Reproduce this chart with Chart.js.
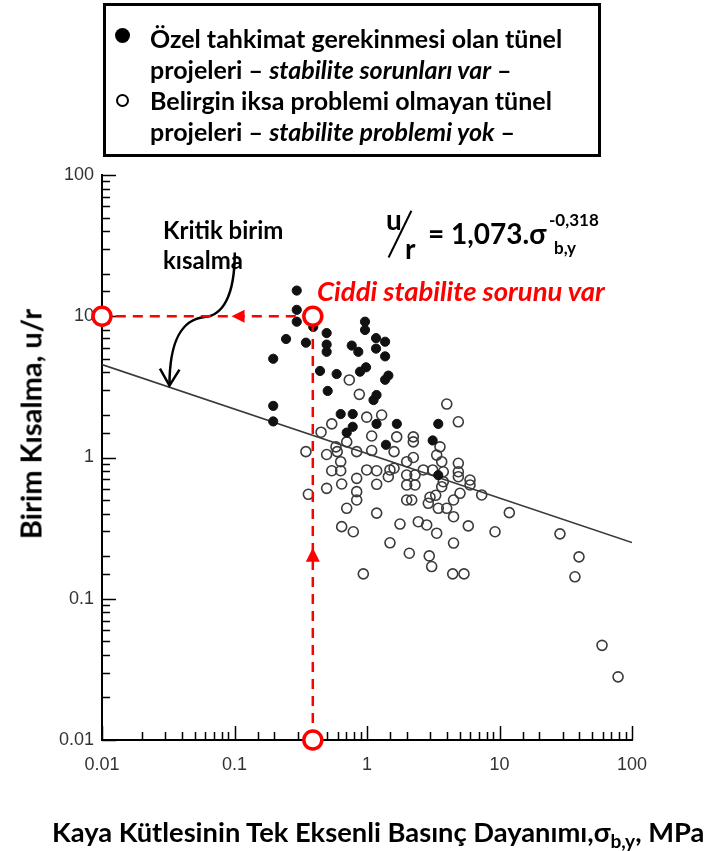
<!DOCTYPE html>
<html lang="tr">
<head>
    <meta charset="UTF-8">
    <title>Birim Kısalma - Basınç Dayanımı</title>
    <script src="https://cdn.jsdelivr.net/npm/chart.js"></script>
    <style>
        body { margin: 0; background: #fff; font-family: Lato, "Open Sans", sans-serif; }
        #wrap { position: relative; width: 708px; height: 851px; overflow: hidden; }
        canvas { position: absolute; left: 0; top: 0; }
        .t { position: absolute; font-weight: bold; color: #000; white-space: nowrap; line-height: 1; }
        #legend { position: absolute; left: 103px; top: 3px; width: 498px; height: 154px; box-sizing: border-box;
                  border: 3px solid #000; padding: 17px 0 0 44px; font-weight: bold; font-size: 25px; line-height: 31px; }
        #legend i { font-style: italic; }
        .dot { position: absolute; left: 9px; width: 15px; height: 15px; border-radius: 50%; box-sizing: border-box; }
        #ytitle { left: 30px; top: 424px; font-size: 29px; transform: translate(-50%, -50%) rotate(-90deg); }
        #xtitle { left: 52px; top: 818px; font-size: 27.3px; }
        sub { font-size: 0.7em; vertical-align: -0.3em; line-height: 0; }
        #slash { position: absolute; left: 399px; top: 208px; width: 1.6px; height: 52px; background: #000; transform: rotate(26deg); }
    </style>
</head>
<body>
<div id="wrap">
    <canvas id="c" width="708" height="851"></canvas>

    <div id="legend">
        <span class="dot" style="top:22px; background:#000;"></span>
        <span class="dot" style="top:88px; width:13px; height:13px; left:10px; border:2.5px solid #000;"></span>
        Özel tahkimat gerekinmesi olan tünel<br>
        projeleri – <i>stabilite sorunları var</i> –<br>
        Belirgin iksa problemi olmayan tünel<br>
        projeleri – <i>stabilite problemi yok</i> –
    </div>

    <div class="t" style="left:163px; top:215px; font-size:24px; line-height:30px;">Kritik birim<br>kısalma</div>

    <div class="t" style="left:386px; top:205px; font-size:28px;">u</div>
    <div id="slash"></div>
    <div class="t" style="left:405px; top:234px; font-size:28px;">r</div>
    <div class="t" style="left:428px; top:219px; font-size:28px;">= 1,073.σ</div>
    <div class="t" style="left:549px; top:211px; font-size:17px;">-0,318</div>
    <div class="t" style="left:554px; top:239px; font-size:17px;">b,y</div>

    <div class="t" style="left:317px; top:277px; font-size:27.5px; font-style:italic; color:#ff0000;">Ciddi stabilite sorunu var</div>

    <div class="t" id="ytitle">Birim Kısalma, u/r</div>
    <div class="t" id="xtitle">Kaya Kütlesinin Tek Eksenli Basınç Dayanımı,σ<sub>b,y</sub>, MPa</div>
</div>

<script>
    // eksen etiketleri
    const xTicks = [0.01, 0.1, 1, 10, 100];
    const yTicks = [0.01, 0.1, 1, 10, 100];

    // özel tahkimat gerektiren projeler (dolu daireler)
    const doluX = [0.295, 0.295, 0.295, 0.393, 0.245, 0.346, 0.196, 0.496, 0.496, 0.496,
                   0.442, 0.59, 0.505, 0.767, 0.86, 0.966, 0.966, 1.17, 1.17, 0.886,
                   0.983, 1.37, 1.37, 1.45, 1.37, 1.18, 1.12, 0.196, 0.196, 0.633,
                   0.78, 0.78, 0.703, 1.18, 1.68, 1.39, 3.45, 3.13, 3.45];
    const doluY = [15.2, 11.1, 9.15, 8.4, 6.9, 6.5, 5.0, 7.6, 6.3, 5.6,
                   4.1, 3.9, 2.96, 6.2, 5.6, 9.15, 8.0, 7.0, 5.9, 4.05,
                   4.35, 6.6, 5.2, 3.8, 3.55, 2.77, 2.55, 2.32, 1.8, 2.03,
                   2.03, 1.65, 1.5, 1.73, 1.73, 1.23, 1.73, 1.32, 0.75];

    // iksa problemi olmayan projeler (boş daireler)
    const bosX = [4.0, 4.89, 1.29, 0.995, 0.542, 0.45, 0.703, 0.583, 0.596, 0.346,
                  0.496, 0.836, 1.085, 1.085, 1.676, 1.6, 2.236, 2.236, 3.357, 4.89,
                  0.633, 0.542, 0.633, 0.995, 1.183, 1.448, 1.6, 1.993, 2.236, 1.993,
                  2.303, 1.993, 2.303, 2.66, 3.131, 3.765, 3.663, 3.765, 3.663, 4.89,
                  4.89, 5.99, 5.99, 7.34, 0.836, 0.644, 0.496, 0.361, 0.836, 0.836,
                  1.183, 0.703, 1.183, 0.644, 0.788, 1.993, 2.175, 2.989, 2.901, 3.452,
                  3.996, 4.5, 5.035, 4.5, 1.774, 2.439, 2.822, 3.357, 5.814, 9.25,
                  1.491, 4.5, 2.086, 2.95, 3.077, 0.938, 4.436, 5.397, 11.86, 28.6,
                  39.8, 37.1, 59.4, 78.5, 3.555, 0.735, 0.875, 3.3, 1.49];
    const bosY = [2.39, 1.79, 2.0, 1.93, 1.73, 1.51, 1.29, 1.19, 1.10, 1.10,
                  1.05, 1.10, 1.42, 1.12, 1.40, 1.10, 1.40, 1.29, 1.04, 0.91,
                  0.934, 0.806, 0.806, 0.816, 0.806, 0.731, 0.839, 0.934, 1.0, 0.752,
                  0.752, 0.639, 0.639, 0.816, 0.816, 0.793, 0.934, 0.674, 0.621, 0.793,
                  0.731, 0.693, 0.639, 0.543, 0.712, 0.649, 0.605, 0.549, 0.573, 0.50,
                  0.646, 0.437, 0.404, 0.324, 0.298, 0.50, 0.50, 0.523, 0.474, 0.437,
                  0.437, 0.50, 0.558, 0.381, 0.338, 0.351, 0.333, 0.291, 0.328, 0.298,
                  0.249, 0.248, 0.21, 0.201, 0.169, 0.15, 0.15, 0.15, 0.407, 0.288,
                  0.198, 0.143, 0.0468, 0.028, 1.19, 3.54, 2.80, 0.54, 0.816];

    // kritik birim kısalma doğrusu (uç noktalar)
    const trendX = [0.01, 100];
    const trendY = [4.55, 0.25];

    // kırmızı okuma çizgileri
    const kritikX = 0.39, kritikY = 10;
    const okYatayX = 0.095, okDikeyY = 0.23;

    // "Kritik birim kısalma" eğri oku (bezier noktaları)
    const egriX = [0.1005, 0.1005, 0.0809, 0.0594, 0.0409, 0.0323, 0.0323];
    const egriY = [28.3, 13.8, 10.1, 9.88, 9.5, 7.04, 3.23];

    const pts = (xs, ys) => xs.map((x, i) => ({ x: x, y: ys[i] }));
    const isDecade = v => Math.abs(Math.log10(v) - Math.round(Math.log10(v))) < 1e-6;

    function tickLabel(list) {
        return function (value) {
            if (!isDecade(value)) return '';
            const t = list.find(t => Math.abs(Math.log10(t) - Math.log10(value)) < 1e-6);
            return t === undefined ? '' : String(t);
        };
    }

    const extras = {
        id: 'extras',
        afterDraw(chart) {
            const { ctx, scales: { x, y }, chartArea: a } = chart;
            const X = v => x.getPixelForValue(v);
            const Y = v => y.getPixelForValue(v);
            ctx.save();

            // içe dönük tik çizgileri
            ctx.strokeStyle = '#000';
            ctx.lineWidth = 1.5;
            ctx.beginPath();
            x.ticks.forEach(t => {
                const p = Math.round(X(t.value)) + 0.5;
                const len = isDecade(t.value) ? 14 : 8;
                ctx.moveTo(p, a.bottom); ctx.lineTo(p, a.bottom - len);
            });
            y.ticks.forEach(t => {
                const p = Math.round(Y(t.value)) + 0.5;
                const len = isDecade(t.value) ? 14 : 8;
                ctx.moveTo(a.left, p); ctx.lineTo(a.left + len, p);
            });
            ctx.stroke();

            // eğri ok
            ctx.strokeStyle = '#000';
            ctx.lineWidth = 2.5;
            ctx.beginPath();
            ctx.moveTo(X(egriX[0]), Y(egriY[0]));
            ctx.bezierCurveTo(X(egriX[1]), Y(egriY[1]), X(egriX[2]), Y(egriY[2]), X(egriX[3]), Y(egriY[3]));
            ctx.bezierCurveTo(X(egriX[4]), Y(egriY[4]), X(egriX[5]), Y(egriY[5]), X(egriX[6]), Y(egriY[6]));
            ctx.stroke();
            const tx = X(egriX[6]), ty = Y(egriY[6]);
            ctx.beginPath();
            ctx.moveTo(tx - 9.5, ty - 17); ctx.lineTo(tx, ty); ctx.lineTo(tx + 10, ty - 16);
            ctx.stroke();

            // kırmızı kesikli çizgiler
            const red = '#ff0000';
            ctx.strokeStyle = red;
            ctx.lineWidth = 2.5;
            ctx.setLineDash([10, 7]);
            ctx.beginPath();
            ctx.moveTo(X(kritikX), Y(kritikY)); ctx.lineTo(X(xTicks[0]), Y(kritikY));
            ctx.moveTo(X(kritikX), Y(yTicks[0])); ctx.lineTo(X(kritikX), Y(kritikY));
            ctx.stroke();
            ctx.setLineDash([]);

            ctx.fillStyle = red;
            let ax = X(okYatayX), ay = Y(kritikY);
            ctx.beginPath();
            ctx.moveTo(ax, ay); ctx.lineTo(ax + 13, ay - 6.5); ctx.lineTo(ax + 13, ay + 6.5); ctx.closePath();
            ctx.fill();
            ax = X(kritikX); ay = Y(okDikeyY);
            ctx.beginPath();
            ctx.moveTo(ax, ay); ctx.lineTo(ax - 7, ay + 14); ctx.lineTo(ax + 7, ay + 14); ctx.closePath();
            ctx.fill();

            // kırmızı daireler
            [[xTicks[0], kritikY], [kritikX, kritikY], [kritikX, yTicks[0]]].forEach(([vx, vy]) => {
                ctx.beginPath();
                ctx.arc(X(vx), Y(vy), 9, 0, Math.PI * 2);
                ctx.fillStyle = '#fff';
                ctx.fill();
                ctx.lineWidth = 3.5;
                ctx.strokeStyle = red;
                ctx.stroke();
            });
            ctx.restore();
        }
    };

    const tickFont = { family: 'Liberation Sans', size: 18 };

    new Chart(document.getElementById('c').getContext('2d'), {
        type: 'scatter',
        data: {
            datasets: [
                {
                    label: 'Kritik birim kısalma',
                    type: 'line',
                    data: pts(trendX, trendY),
                    borderColor: '#3a3a3a',
                    borderWidth: 1.6,
                    pointRadius: 0,
                    fill: false,
                    order: 3
                },
                {
                    label: 'Belirgin iksa problemi olmayan tünel projeleri',
                    data: pts(bosX, bosY),
                    pointRadius: 5,
                    pointBorderWidth: 1.6,
                    pointBorderColor: '#3a3a3a',
                    pointBackgroundColor: 'rgba(0,0,0,0)',
                    order: 2
                },
                {
                    label: 'Özel tahkimat gerekinmesi olan tünel projeleri',
                    data: pts(doluX, doluY),
                    pointRadius: 4.6,
                    pointBorderWidth: 1,
                    pointBorderColor: '#111',
                    pointBackgroundColor: '#111',
                    order: 1
                }
            ]
        },
        options: {
            responsive: false,
            animation: false,
            layout: { padding: { left: 0, right: 76, top: 175, bottom: 0 } },
            plugins: { legend: { display: false }, tooltip: { enabled: false } },
            scales: {
                x: {
                    type: 'logarithmic', min: 0.01, max: 100,
                    grid: { display: false, drawTicks: false },
                    border: { display: true, color: '#000', width: 2 },
                    ticks: { autoSkip: false, maxRotation: 0, minRotation: 0, padding: 14,
                             color: '#333', font: tickFont, callback: tickLabel(xTicks) },
                    afterFit: s => { s.height = 111; }
                },
                y: {
                    type: 'logarithmic', min: 0.01, max: 100,
                    grid: { display: false, drawTicks: false },
                    border: { display: true, color: '#000', width: 2 },
                    ticks: { autoSkip: false, padding: 8, color: '#333', font: tickFont,
                             callback: tickLabel(yTicks) },
                    afterFit: s => { s.width = 102; }
                }
            }
        },
        plugins: [extras]
    });
</script>
</body>
</html>
